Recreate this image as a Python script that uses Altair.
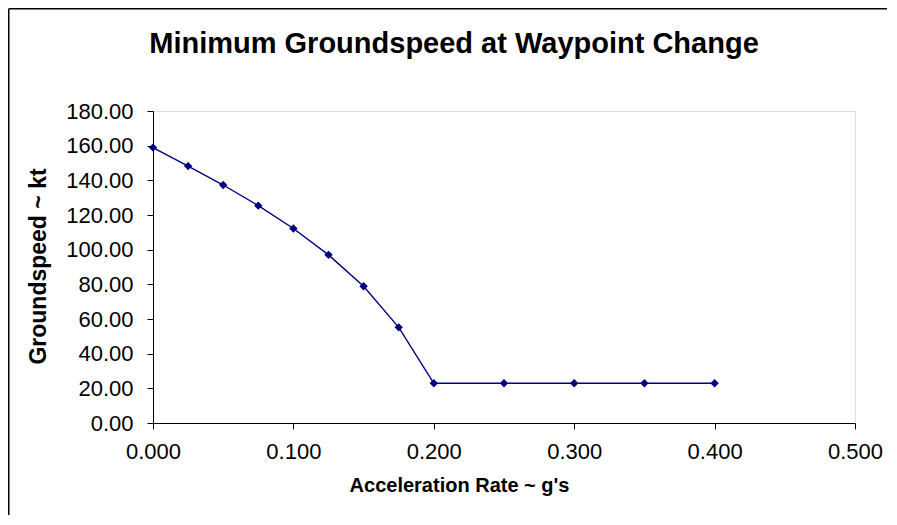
import altair as alt
import pandas as pd

accel = [0.000, 0.025, 0.050, 0.075, 0.100, 0.125, 0.150, 0.175, 0.200, 0.250, 0.300, 0.350, 0.400]
speed = [158.9, 148.2, 137.3, 125.4, 112.2, 97.0, 78.9, 55.2, 22.9, 22.9, 22.9, 22.9, 22.9]
title_text = ["Minimum Groundspeed at Waypoint Change"]

df = pd.DataFrame({"accel": accel, "speed": speed})

FONT = "Liberation Sans"
NAVY = "#000080"

x = alt.X("accel:Q",
          scale=alt.Scale(domain=[0, 0.5], nice=False, zero=False),
          axis=alt.Axis(values=[0, 0.1, 0.2, 0.3, 0.4, 0.5], format=".3f",
                        title="Acceleration Rate ~ g's", grid=False,
                        domainColor="black", tickColor="black", tickSize=6,
                        labelFontSize=22, labelFont=FONT, labelColor="black",
                        labelPadding=12, titleFontSize=20, titleFont=FONT,
                        titleFontWeight="bold", titleColor="black",
                        titleX=306, titleY=62, titleBaseline="middle",
                        titleAnchor="start", titleAlign="center",
                        labelFlush=False, labelOverlap=False))
y = alt.Y("speed:Q",
          scale=alt.Scale(domain=[0, 180], nice=False),
          axis=alt.Axis(values=list(range(0, 181, 20)), format=".2f",
                        title="Groundspeed ~ kt", grid=False,
                        domainColor="black", tickColor="black", tickSize=6,
                        labelFontSize=22, labelFont=FONT, labelColor="black",
                        labelPadding=14, titleFontSize=23, titleFont=FONT,
                        titleFontWeight="bold", titleColor="black",
                        titleX=-115, titleY=155, titleBaseline="middle",
                        titleAnchor="start", titleAlign="center",
                        labelOverlap=False, labelFlush=False))

line = alt.Chart(df).mark_line(color=NAVY, strokeWidth=1.4).encode(x=x, y=y)
pts = alt.Chart(df).mark_point(shape="diamond", filled=True, color=NAVY,
                               size=70, opacity=1).encode(x=x, y=y)

one = pd.DataFrame({"a": [0]})
frame_top = alt.Chart(one).mark_rule(color="black", strokeWidth=1.5).encode(
    x=alt.value(-144.25), x2=alt.value(740), y=alt.value(-102.25))
frame_left = alt.Chart(one).mark_rule(color="black", strokeWidth=1.5).encode(
    x=alt.value(-144.25), y=alt.value(-102.25), y2=alt.value(410))

title = alt.Chart(pd.DataFrame({"t": title_text})).mark_text(
    font=FONT, fontSize=29, fontWeight="bold", color="black",
    align="center", baseline="middle"
).encode(text="t:N", x=alt.value(301), y=alt.value(-67))

chart = alt.layer(line, pts, title, frame_top, frame_left).properties(
    width=702, height=312,
    padding={"left": 145, "top": 103, "right": 32, "bottom": 92},
    autosize=alt.AutoSizeParams(type="none"),
).configure_view(stroke="#a0a0a0", strokeWidth=1).configure(background="white")

chart.save("out.html", embed_options={"renderer": "svg", "actions": False})
